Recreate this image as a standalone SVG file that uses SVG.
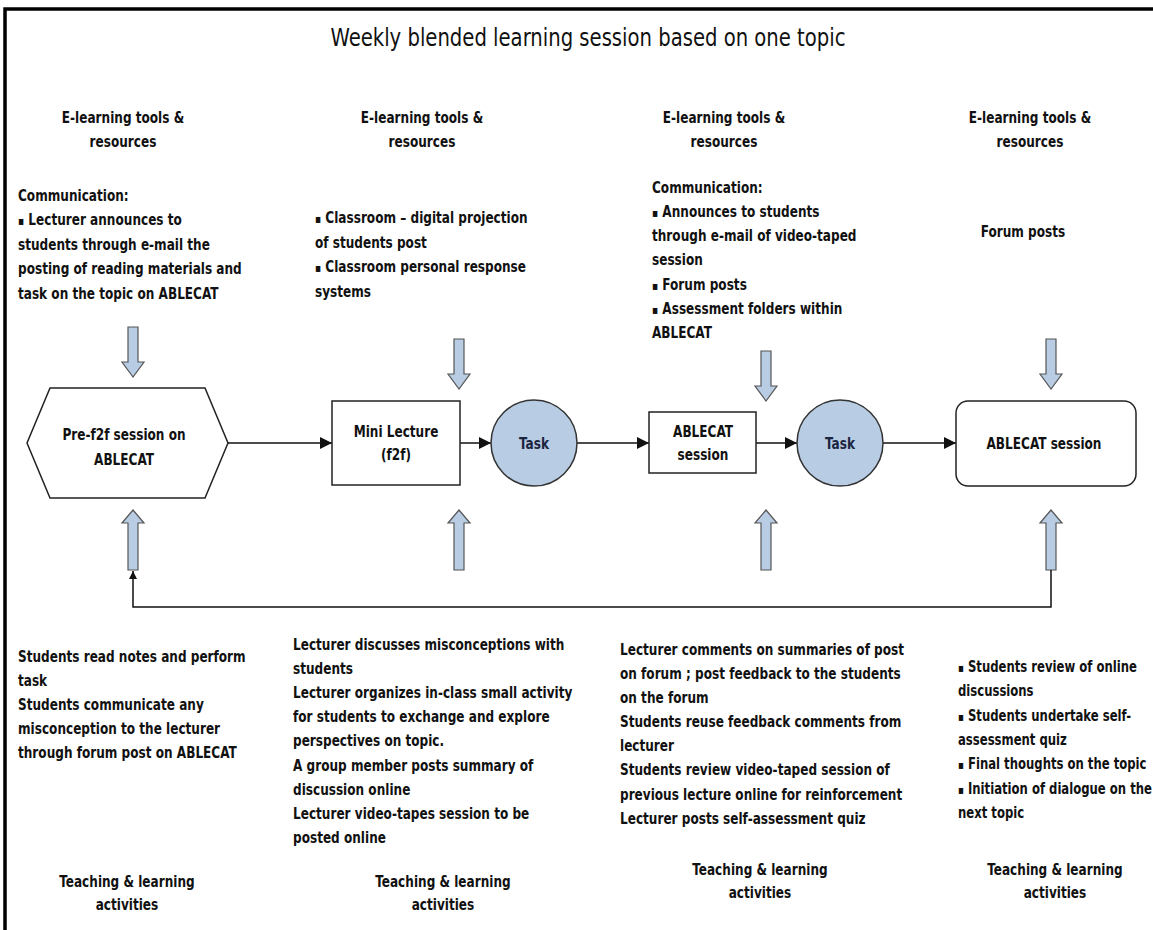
<svg xmlns="http://www.w3.org/2000/svg" width="1153" height="930" viewBox="0 0 1153 930">
<style>
text{font-family:"Liberation Sans Narrow","DejaVu Sans Condensed","Liberation Sans",sans-serif;font-weight:bold;font-size:16px;fill:#111}
.title{font-weight:normal;font-size:24px}
.c{text-anchor:middle}
.b{font-size:12px}
.blk{fill:#b8cce4;stroke:#555;stroke-width:1.2}
.node{fill:#fff;stroke:#222;stroke-width:1.5}
.task{fill:#b8cce4;stroke:#333;stroke-width:1.5}
.tt{fill:#1b2540}
.con{fill:none;stroke:#111;stroke-width:1.5}
</style>
<defs>
<marker id="ah" viewBox="0 0 10 10" refX="10" refY="5" markerWidth="12" markerHeight="12" markerUnits="userSpaceOnUse" orient="auto"><path d="M0,0 L10,5 L0,10 Z" fill="#111"/></marker>
<marker id="ahs" viewBox="0 0 10 10" refX="10" refY="5" markerWidth="8" markerHeight="8" markerUnits="userSpaceOnUse" orient="auto"><path d="M0,0 L10,5 L0,10 Z" fill="#111"/></marker>
<path id="dn" d="M-5,0 H5 V35 H11 L0,50 L-11,35 H-5 Z"/>
<path id="up" d="M-5,60 H5 V13 H11 L0,0 L-11,13 H-5 Z"/>
</defs>
<rect width="1153" height="930" fill="#fff"/>
<path d="M5,930 V9 H1153" fill="none" stroke="#000" stroke-width="3.5"/>
<text class="title c" x="588" y="46" textLength="515" lengthAdjust="spacingAndGlyphs">Weekly blended learning session based on one topic</text>

<g id="hdr1" transform="matrix(.84 0 0 1 19.68 0)"><text class="c" x="123" y="123">E-learning tools &amp;</text><text class="c" x="123" y="147">resources</text></g>
<g id="hdr2" transform="matrix(.84 0 0 1 67.52 0)"><text class="c" x="422" y="123">E-learning tools &amp;</text><text class="c" x="422" y="147">resources</text></g>
<g id="hdr3" transform="matrix(.84 0 0 1 115.84 0)"><text class="c" x="724" y="123">E-learning tools &amp;</text><text class="c" x="724" y="147">resources</text></g>
<g id="hdr4" transform="matrix(.84 0 0 1 164.8 0)"><text class="c" x="1030" y="123">E-learning tools &amp;</text><text class="c" x="1030" y="147">resources</text></g>

<g id="res1" transform="matrix(.84 0 0 1 2.88 0)"><text x="18" y="201">Communication:</text><text x="18" y="225.5"><tspan class="b">▪</tspan> Lecturer announces to</text><text x="18" y="250">students through e-mail  the</text><text x="18" y="274.5">posting of reading materials and</text><text x="18" y="299">task on the topic on ABLECAT</text></g>
<g id="res2" transform="matrix(.84 0 0 1 50.4 0)"><text x="315" y="223"><tspan class="b">▪</tspan> Classroom – digital projection</text><text x="315" y="248">of students post</text><text x="315" y="272"><tspan class="b">▪</tspan> Classroom personal response</text><text x="315" y="297">systems</text></g>
<g id="res3" transform="matrix(.84 0 0 1 104.32 0)"><text x="652" y="193">Communication:</text><text x="652" y="217"><tspan class="b">▪</tspan> Announces to students</text><text x="652" y="241.5">through e-mail of video-taped</text><text x="652" y="265.5">session</text><text x="652" y="290"><tspan class="b">▪</tspan> Forum posts</text><text x="652" y="314"><tspan class="b">▪</tspan> Assessment folders within</text><text x="652" y="338">ABLECAT</text></g>
<g id="res4" transform="matrix(.84 0 0 1 163.68 0)"><text class="c" x="1023" y="237">Forum posts</text></g>

<g id="inflow">
<use href="#dn" class="blk" x="133" y="327"/>
<use href="#dn" class="blk" x="459" y="339"/>
<use href="#dn" class="blk" x="766" y="351"/>
<use href="#dn" class="blk" x="1051" y="339"/>
<use href="#up" class="blk" x="133" y="510"/>
<use href="#up" class="blk" x="459" y="510"/>
<use href="#up" class="blk" x="766" y="510"/>
<use href="#up" class="blk" x="1051" y="510"/>
</g>

<g id="connectors">
<line class="con" x1="228" y1="443" x2="332" y2="443" marker-end="url(#ah)"/>
<line class="con" x1="460" y1="443" x2="491" y2="443" marker-end="url(#ah)"/>
<line class="con" x1="577" y1="443" x2="649" y2="443" marker-end="url(#ah)"/>
<line class="con" x1="756" y1="443" x2="797" y2="443" marker-end="url(#ah)"/>
<line class="con" x1="883" y1="443" x2="956" y2="443" marker-end="url(#ah)"/>
<path class="con" d="M1051,570 V607 H133 V571" marker-end="url(#ahs)"/>
</g>

<g id="n-pre"><path class="node" d="M50,388 H205 L228,443 L205,498 H50 L27,443 Z"/><g transform="matrix(.84 0 0 1 19.84 0)"><text class="c" x="124" y="440">Pre-f2f session on</text><text class="c" x="124" y="465">ABLECAT</text></g></g>
<g id="n-mini"><rect class="node" x="332" y="401" width="128" height="84"/><g transform="matrix(.84 0 0 1 63.36 0)"><text class="c" x="396" y="437">Mini Lecture</text><text class="c" x="396" y="460">(f2f)</text></g></g>
<g id="n-task1"><circle class="task" cx="534" cy="443" r="43"/><g transform="matrix(.84 0 0 1 85.44 0)"><text class="c tt" x="534" y="449">Task</text></g></g>
<g id="n-able"><rect class="node" x="649" y="412" width="107" height="61"/><g transform="matrix(.84 0 0 1 112.48 0)"><text class="c" x="703" y="437">ABLECAT</text><text class="c" x="703" y="460">session</text></g></g>
<g id="n-task2"><circle class="task" cx="840" cy="443" r="43"/><g transform="matrix(.84 0 0 1 134.4 0)"><text class="c tt" x="840" y="449">Task</text></g></g>
<g id="n-sess"><rect class="node" x="956" y="401" width="180" height="85" rx="12"/><g transform="matrix(.84 0 0 1 167.04 0)"><text class="c" x="1044" y="449">ABLECAT session</text></g></g>

<g id="act1" transform="matrix(.84 0 0 1 2.88 0)"><text x="18" y="662">Students read notes and perform</text><text x="18" y="686">task</text><text x="18" y="710">Students communicate any</text><text x="18" y="734">misconception to the lecturer</text><text x="18" y="758">through forum post on ABLECAT</text></g>
<g id="act2" transform="matrix(.84 0 0 1 46.88 0)"><text x="293" y="650">Lecturer discusses misconceptions with</text><text x="293" y="674">students</text><text x="293" y="698">Lecturer organizes in-class  small activity</text><text x="293" y="722">for students  to exchange and explore</text><text x="293" y="746">perspectives on topic.</text><text x="293" y="771">A group member posts summary of</text><text x="293" y="795">discussion online</text><text x="293" y="819">Lecturer video-tapes session to be</text><text x="293" y="843">posted online</text></g>
<g id="act3" transform="matrix(.84 0 0 1 99.2 0)"><text x="620" y="655">Lecturer comments on summaries of post</text><text x="620" y="679">on forum ; post feedback to the students</text><text x="620" y="703">on the forum</text><text x="620" y="727">Students reuse feedback comments from</text><text x="620" y="751">lecturer</text><text x="620" y="775">Students review video-taped session of</text><text x="620" y="800">previous  lecture online for reinforcement</text><text x="620" y="824">Lecturer posts self-assessment quiz</text></g>
<g id="act4" transform="matrix(.81 0 0 1 182.02 0)"><text x="958" y="672"><tspan class="b">▪</tspan> Students review of online</text><text x="958" y="696">discussions</text><text x="958" y="721"><tspan class="b">▪</tspan> Students undertake self-</text><text x="958" y="745">assessment quiz</text><text x="958" y="769"><tspan class="b">▪</tspan> Final thoughts on the topic</text><text x="958" y="794"><tspan class="b">▪</tspan> Initiation of dialogue on the</text><text x="958" y="818">next topic</text></g>

<g id="lbl1" transform="matrix(.84 0 0 1 20.32 0)"><text class="c" x="127" y="887">Teaching &amp; learning</text><text class="c" x="127" y="910">activities</text></g>
<g id="lbl2" transform="matrix(.84 0 0 1 70.88 0)"><text class="c" x="443" y="887">Teaching &amp; learning</text><text class="c" x="443" y="910">activities</text></g>
<g id="lbl3" transform="matrix(.84 0 0 1 121.6 0)"><text class="c" x="760" y="875">Teaching &amp; learning</text><text class="c" x="760" y="898">activities</text></g>
<g id="lbl4" transform="matrix(.84 0 0 1 168.8 0)"><text class="c" x="1055" y="875">Teaching &amp; learning</text><text class="c" x="1055" y="898">activities</text></g>
</svg>
